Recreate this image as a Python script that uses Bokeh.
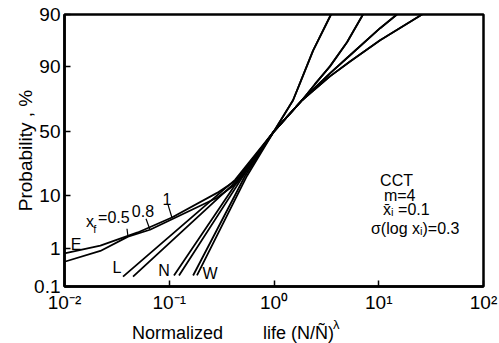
from statistics import NormalDist
from bokeh.plotting import figure
from bokeh.layouts import column
from bokeh.models import FixedTicker, Label, Range1d
from bokeh.embed import file_html
from bokeh.resources import INLINE

_nd = NormalDist()


def zq(pcts):
    return [_nd.inv_cdf(v / 100.0) for v in pcts]


# ---- axes ----
prob_ticks = [0.1, 1, 10, 50, 90, 99]
prob_labels = ["0.1", "1", "10", "50", "90", "90"]
x_ticks = [0.01, 0.1, 1, 10, 100]
x_labels = ["10\u207b\u00b2", "10\u207b\u00b9", "10\u2070", "10\u00b9", "10\u00b2"]

# ---- upper tails (x >= 1) ----
tail_E_x = [1, 1.85, 3.42, 5.32, 10.3, 25.9]
tail_E_p = [50, 73.2, 86.3, 91.8, 96.5, 99]
tail_L_x = [1, 1.85, 3.42, 5.32, 10.3, 14.9]
tail_L_p = [50, 73.2, 87.6, 93.5, 98.0, 99]
tail_N_x = [1, 1.85, 2.46, 3.42, 4.98, 7.07]
tail_N_p = [50, 73.2, 82.6, 90.2, 96.2, 99]
tail_W_x = [1, 1.52, 1.77, 2.36, 3.5]
tail_W_p = [50, 73.2, 83.1, 94.6, 99]

# ---- lower branches (x <= 1) ----
E1_x = [0.01, 0.022, 0.05, 0.106, 0.286, 0.443]
E1_p = [0.75, 1.14, 2.2, 4.3, 11.0, 16.7]
E2_x = [0.01, 0.022, 0.0404, 0.0655, 0.286, 0.443]
E2_p = [0.47, 0.86, 1.8, 2.5, 9.3, 15.2]
L1_x = [0.0362, 0.425]
L1_p = [0.19, 16.7]
L2_x = [0.0451, 0.453]
L2_p = [0.19, 16.7]
N1_x = [0.111, 0.473]
N1_p = [0.205, 17.7]
N2_x = [0.124, 0.495]
N2_p = [0.205, 17.7]
W1_x = [0.169, 0.529]
W1_p = [0.205, 18.7]
W2_x = [0.184, 0.552]
W2_p = [0.205, 18.7]

curves = [
    (E1_x, E1_p, tail_E_x, tail_E_p),
    (E2_x, E2_p, tail_E_x, tail_E_p),
    (L1_x, L1_p, tail_L_x, tail_L_p),
    (L2_x, L2_p, tail_L_x, tail_L_p),
    (N1_x, N1_p, tail_N_x, tail_N_p),
    (N2_x, N2_p, tail_N_x, tail_N_p),
    (W1_x, W1_p, tail_W_x, tail_W_p),
    (W2_x, W2_p, tail_W_x, tail_W_p),
]

FONT = "Liberation Sans"

p = figure(width=499, height=315, x_axis_type="log",
           x_range=Range1d(0.01, 100), y_range=Range1d(*zq([0.1, 99])),
           output_backend="svg", toolbar_location=None,
           min_border_left=64, min_border_right=16, min_border_top=14,
           min_border_bottom=28)
p.grid.visible = False
p.outline_line_color = "black"
p.outline_line_width = 2.5
p.background_fill_color = "white"
p.border_fill_color = "white"

for ax in (p.xaxis[0], p.yaxis[0]):
    ax.axis_line_width = 2.5
    ax.major_tick_in = 6
    ax.major_tick_out = 0
    ax.major_tick_line_width = 1.5
    ax.minor_tick_line_color = None
    ax.major_label_text_font = FONT
    ax.major_label_text_font_size = "19px"
    ax.major_label_text_color = "black"
    ax.major_label_standoff = 4

p.xaxis.major_label_standoff = 5
p.xaxis.ticker = FixedTicker(ticks=x_ticks)
p.xaxis.major_label_overrides = {t: l for t, l in zip(x_ticks, x_labels)}

ytick_pos = zq(prob_ticks)
p.yaxis.ticker = FixedTicker(ticks=ytick_pos)
p.yaxis.major_label_overrides = {t: l for t, l in zip(ytick_pos, prob_labels)}
p.yaxis.axis_label = "Probability , %"
p.yaxis.axis_label_text_font = FONT
p.yaxis.axis_label_text_font_style = "normal"
p.yaxis.axis_label_text_font_size = "19px"
p.yaxis.axis_label_text_color = "black"
p.yaxis.axis_label_standoff = -5

for lx, lp, tx, tp in curves:
    xs = lx + tx
    ys = zq(lp + tp)
    p.line(xs, ys, line_color="black", line_width=1.8)

# leader ticks from parameter labels to curves
lead_x0 = [0.0395, 0.060, 0.0973]
lead_p0 = [2.62, 4.08, 7.2]
lead_x1 = [0.0404, 0.0655, 0.106]
lead_p1 = [1.8, 2.5, 4.3]
p.segment(lead_x0, zq(lead_p0), lead_x1, zq(lead_p1), line_color="black", line_width=1.2)


def lab(x, pct, text, size="16px", align="center", baseline="middle"):
    p.add_layout(Label(x=x, y=zq([pct])[0], text=text, text_font=FONT,
                       text_font_size=size, text_align=align,
                       text_baseline=baseline, text_color="black"))


lab(0.0129, 1.2, "E")
lab(0.0317, 0.333, "L")
lab(0.0891, 0.279, "N")
lab(0.245, 0.231, "W")
lab(0.0175, 3.6, "x")
lab(0.0195, 2.62, "f", size="11px")
lab(0.0209, 4.26, "=0.5", align="left")
lab(0.0561, 5.68, "0.8")
lab(0.0952, 8.95, "1")

lab(10.3, 16.2, "CCT", align="left")
lab(11.2, 9.96, "m=4", align="left")
lab(11.0, 5.92, "x\u0304\u1d62 =0.1", align="left")
lab(8.43, 2.62, "\u03c3(log x\u1d62)=0.3", align="left")

# ---- x-axis title strip (left aligned as in the reference, superscript lambda) ----
# shares the main plot's x scale, so its frame lines up with the chart frame
cap = figure(width=499, height=28, x_axis_type="log", x_range=p.x_range,
             y_range=Range1d(0, 28),
             output_backend="svg", toolbar_location=None,
             x_axis_location=None, y_axis_location=None,
             min_border_left=64, min_border_right=16, min_border_top=0,
             min_border_bottom=0)
cap.grid.visible = False
cap.outline_line_color = None
cap.add_layout(Label(x=0.0441, y=11,
                     text="Normalized" + "\u00a0" * 8 + "life (N/\u00d1)",
                     text_font=FONT, text_font_size="18px", text_align="left",
                     text_baseline="middle", text_color="black"))
cap.add_layout(Label(x=3.66, y=19, text="\u03bb", text_font=FONT, text_font_size="13px",
                     text_align="left", text_baseline="middle", text_color="black"))

layout = column(p, cap, spacing=0)
open("out.html", "w").write(file_html(layout, INLINE))
